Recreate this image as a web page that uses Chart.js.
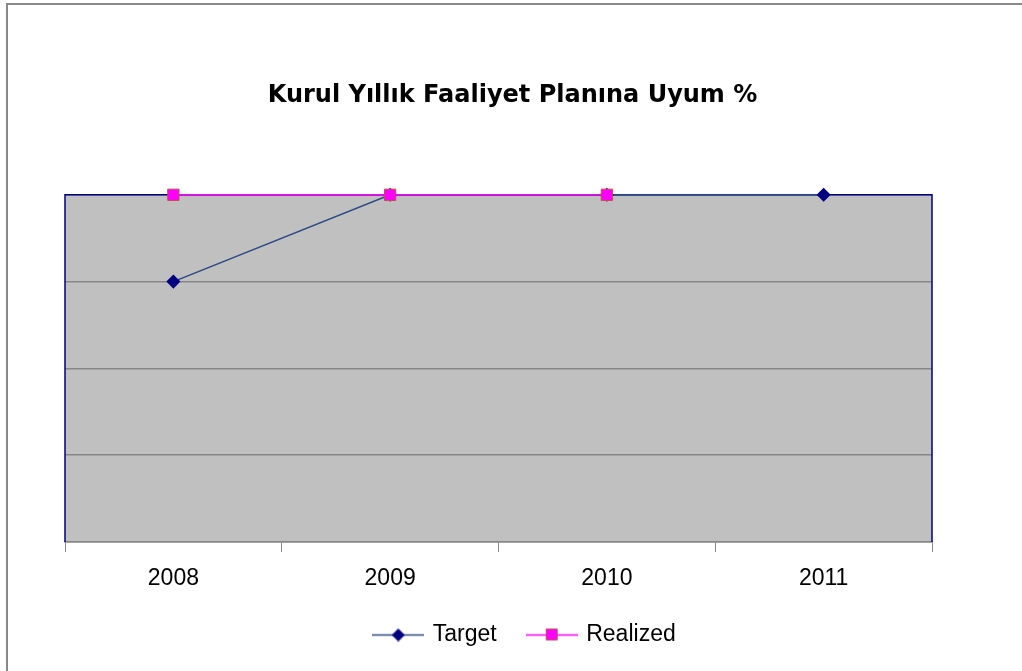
<!DOCTYPE html>
<html>
<head>
<meta charset="utf-8">
<script src="https://cdn.jsdelivr.net/npm/chart.js@4/dist/chart.umd.min.js"></script>
<style>
  html, body { margin: 0; padding: 0; background: #fff; }
  #wrap { width: 1022px; height: 671px; }
</style>
</head>
<body>
<div id="wrap"><canvas id="line-chart" width="1022" height="671"></canvas></div>
<script>
var years = ['2008', '2009', '2010', '2011'];
var target = [75, 100, 100, 100];
var realized = [100, 100, 100, null];
var yTicks = [0, 25, 50, 75, 100];

var navy = '#000080';
var targetLine = '#2c4a84';
var magenta = '#ff00ff';

// little line + marker picture for the legend
function legendIcon(color, marker, fill, border) {
    var c = document.createElement('canvas');
    c.width = 52; c.height = 14;
    var g = c.getContext('2d');
    g.strokeStyle = color;
    g.lineWidth = 1.5;
    g.beginPath();
    g.moveTo(0, 7.5); g.lineTo(52, 7.5);
    g.stroke();
    g.fillStyle = fill;
    g.strokeStyle = border;
    g.lineWidth = 1;
    g.beginPath();
    if (marker == 'diamond') {
        g.moveTo(26, 1.5); g.lineTo(32, 7.5); g.lineTo(26, 13.5); g.lineTo(20, 7.5);
        g.closePath();
    } else {
        g.rect(20.5, 1.5, 11, 11);
    }
    g.fill();
    g.stroke();
    return c;
}

var icons = [
    legendIcon(targetLine, 'diamond', navy, navy),
    legendIcon(magenta, 'square', magenta, '#c0504d')
];

var plotBack = {
    id: 'plotBack',
    afterLayout: function(chart) {
        // title and legend sit a bit right of the plot centre in the original
        chart.legend.left += 27;
        chart.legend.right += 27;
        chart.titleBlock.left += 14;
        chart.titleBlock.right += 14;
    },
    beforeDraw: function(chart) {
        var ctx = chart.ctx, a = chart.chartArea;
        ctx.save();
        ctx.fillStyle = '#c0c0c0';
        ctx.fillRect(a.left, a.top, a.right - a.left, a.bottom - a.top);
        ctx.strokeStyle = '#898989';
        ctx.lineWidth = 2;
        ctx.strokeRect(7, 4, 1100, 800);
        ctx.restore();
    },
    beforeDatasetsDraw: function(chart) {
        var ctx = chart.ctx, a = chart.chartArea;
        ctx.save();
        ctx.strokeStyle = navy;
        ctx.lineWidth = 1.5;
        ctx.beginPath();
        ctx.moveTo(a.left, a.bottom);
        ctx.lineTo(a.left, a.top);
        ctx.lineTo(a.right, a.top);
        ctx.lineTo(a.right, a.bottom);
        ctx.stroke();
        ctx.restore();
    }
};

var ctx = document.getElementById('line-chart');
var lineChart = new Chart(ctx, {
    type: 'line',
    data: {
        labels: years,
        datasets: [{
            label: 'Target',
            data: target,
            borderColor: targetLine,
            borderWidth: 1.5,
            backgroundColor: navy,
            pointStyle: 'rectRot',
            pointRadius: 6,
            pointBorderColor: navy,
            pointBackgroundColor: navy,
            clip: false,
            order: 1
        }, {
            label: 'Realized',
            data: realized,
            borderColor: magenta,
            borderWidth: 1.5,
            backgroundColor: magenta,
            pointStyle: 'rect',
            pointRadius: 8,
            pointBorderColor: '#c0504d',
            pointBorderWidth: 1,
            pointBackgroundColor: magenta,
            clip: false,
            order: 0
        }]
    },
    options: {
        responsive: false,
        animation: false,
        layout: { padding: { left: 65, right: 90, top: 0, bottom: 15 } },
        plugins: {
            title: {
                display: true,
                text: 'Kurul Yıllık Faaliyet Planına Uyum %',
                color: '#000',
                font: { family: 'DejaVu Sans', size: 24, weight: 'bold' },
                padding: { top: 81, bottom: 85 }
            },
            legend: {
                position: 'bottom',
                labels: {
                    usePointStyle: true,
                    pointStyleWidth: 46,
                    padding: 32,
                    color: '#000',
                    font: { family: 'Liberation Sans', size: 23 },
                    sort: function(a, b) { return a.datasetIndex - b.datasetIndex; },
                    generateLabels: function(chart) {
                        var items = Chart.defaults.plugins.legend.labels.generateLabels(chart);
                        items.forEach(function(it) { it.pointStyle = icons[it.datasetIndex]; });
                        return items;
                    }
                }
            },
            tooltip: { enabled: false }
        },
        scales: {
            x: {
                offset: true,
                grid: {
                    offset: true,
                    drawOnChartArea: false,
                    drawTicks: true,
                    tickLength: 10,
                    color: '#868686'
                },
                border: { color: '#868686', width: 1.5 },
                ticks: {
                    color: '#000',
                    padding: 13,
                    font: { family: 'Liberation Sans', size: 23 }
                },
                afterFit: function(scale) { scale.height = 49; }
            },
            y: {
                min: 0,
                max: 100,
                afterBuildTicks: function(scale) {
                    scale.ticks = yTicks.map(function(v) { return { value: v }; });
                },
                ticks: { display: false },
                grid: { color: '#868686', lineWidth: 1.5, drawTicks: false },
                border: { display: false },
                afterFit: function(scale) { scale.width = 0; }
            }
        }
    },
    plugins: [plotBack]
});
</script>
</body>
</html>
